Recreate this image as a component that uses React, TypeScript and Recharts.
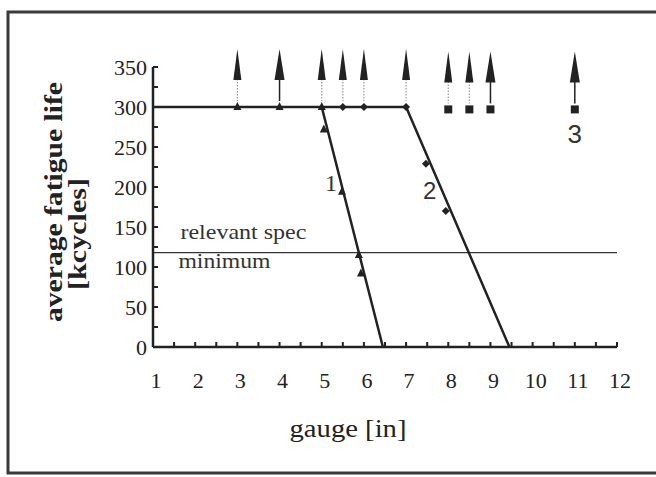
import React from 'react';
import { ComposedChart, Line, Scatter, XAxis, YAxis, ReferenceLine, ReferenceDot } from 'recharts';

// axis ticks
const xTicks = [1, 1.5, 2, 2.5, 3, 3.5, 4, 4.5, 5, 5.5, 6, 6.5, 7, 7.5, 8, 8.5, 9, 9.5, 10, 10.5, 11, 11.5, 12];
const yTicks = [0, 25, 50, 75, 100, 125, 150, 175, 200, 225, 250, 275, 300, 325, 350];

const specMinimum = 118;

// fitted lines
const line1 = [
  { x: 1, y: 300 },
  { x: 5, y: 300 },
  { x: 6.45, y: 0 },
];
const line2 = [
  { x: 5, y: 300 },
  { x: 7, y: 300 },
  { x: 9.45, y: 0 },
];

// measured points
const triangles = [
  { x: 3, y: 300 },
  { x: 4, y: 300 },
  { x: 5, y: 300 },
  { x: 5.05, y: 272 },
  { x: 5.48, y: 194 },
  { x: 5.88, y: 115 },
  { x: 5.93, y: 92 },
];
const diamonds = [
  { x: 5.5, y: 300 },
  { x: 6, y: 300 },
  { x: 7, y: 300 },
  { x: 7.47, y: 229 },
  { x: 7.94, y: 170 },
];
const squares = [
  { x: 8, y: 297 },
  { x: 8.5, y: 297 },
  { x: 9, y: 297 },
  { x: 11, y: 297 },
];

// run-outs (no failure)
const arrows = [
  { x: 3, y: 300, solid: false },
  { x: 4, y: 300, solid: true },
  { x: 5, y: 300, solid: false },
  { x: 5.5, y: 300, solid: false },
  { x: 6, y: 300, solid: false },
  { x: 7, y: 300, solid: false },
  { x: 8, y: 297, solid: false },
  { x: 8.5, y: 297, solid: false },
  { x: 9, y: 297, solid: true },
  { x: 11, y: 297, solid: true },
];

const INK = '#222';
const SERIF = '"Liberation Serif", "DejaVu Serif", serif';
const SANS = '"Liberation Sans", Arial, sans-serif';

const XTick = ({ x, y, payload }: any) => {
  const v = payload.value;
  return (
    <g>
      {v > 1 && <line x1={x} x2={x} y1={y} y2={y - 5} stroke={INK} strokeWidth={2} />}
      {Number.isInteger(v) && (
        <text x={x + 3} y={y + 41} textAnchor="middle" fontFamily={SERIF} fontSize={22} fill={INK}>
          {v}
        </text>
      )}
    </g>
  );
};

const YTick = ({ x, y, payload }: any) => {
  const v = payload.value;
  return (
    <g>
      {v > 0 && <line x1={x} x2={x + 5} y1={y} y2={y} stroke={INK} strokeWidth={2} />}
      {v % 50 === 0 && (
        <text x={x - 6} y={y} dy="0.35em" textAnchor="end" fontFamily={SERIF} fontSize={22} fill={INK}>
          {v}
        </text>
      )}
    </g>
  );
};

const Triangle = ({ cx, cy }: any) => (
  <polygon points={`${cx},${cy - 5} ${cx - 4},${cy + 3} ${cx + 4},${cy + 3}`} fill={INK} />
);
const Diamond = ({ cx, cy }: any) => (
  <polygon points={`${cx},${cy - 4} ${cx + 4},${cy} ${cx},${cy + 4} ${cx - 4},${cy}`} fill={INK} />
);
const Square = ({ cx, cy }: any) => <rect x={cx - 4} y={cy - 4} width={8} height={8} fill={INK} />;

const Arrow = ({ cx, cy, payload }: any) => {
  const w = payload.solid ? 5 : 4;
  return (
    <g>
      <line
        x1={cx}
        x2={cx}
        y1={cy - 28}
        y2={cy - 6}
        stroke={payload.solid ? INK : '#999'}
        strokeWidth={payload.solid ? 1.5 : 1.2}
        strokeDasharray={payload.solid ? undefined : '1.5 1.5'}
      />
      <polygon points={`${cx},${cy - 58} ${cx - w},${cy - 27} ${cx + w},${cy - 27}`} fill={INK} />
    </g>
  );
};

const label = (text: string, font: string, size: number) => ({ cx, cy }: any) => (
  <text x={cx} y={cy} dy="0.35em" textAnchor="middle" fontFamily={font} fontSize={size} fill="#333">
    {text}
  </text>
);

const SpecText = ({ cx, cy }: any) => (
  <g fontFamily={SERIF} fontSize={22} fill="#333">
    <text x={cx} y={cy - 14} textLength={126} lengthAdjust="spacingAndGlyphs">relevant spec</text>
    <text x={cx - 2} y={cy + 15} textLength={92} lengthAdjust="spacingAndGlyphs">minimum</text>
  </g>
);

export default function App() {
  return (
    <div style={{ position: 'fixed', left: 0, top: 0, width: 656, height: 477, background: '#fff', overflow: 'hidden' }}>
      <svg width={656} height={477} style={{ position: 'absolute', left: 0, top: 0 }}>
        <rect x={8} y={12} width={700} height={461} fill="none" stroke="#3a3a3a" strokeWidth={3} />
        <text
          transform="translate(62,202) rotate(-90)"
          textAnchor="middle"
          fontFamily={SERIF}
          fontWeight="bold"
          fontSize={26}
          fill={INK}
          textLength={240}
          lengthAdjust="spacingAndGlyphs"
        >
          average fatigue life
        </text>
        <text
          transform="translate(86,234) rotate(-90)"
          textAnchor="middle"
          fontFamily={SERIF}
          fontWeight="bold"
          fontSize={26}
          fill={INK}
          textLength={112}
          lengthAdjust="spacingAndGlyphs"
        >
          [kcycles]
        </text>
        <text x={348} y={437} textAnchor="middle" fontFamily={SERIF} fontSize={25} fill={INK} textLength={117} lengthAdjust="spacingAndGlyphs">
          gauge [in]
        </text>
      </svg>
      <div style={{ position: 'absolute', left: 0, top: 0 }}>
        <ComposedChart width={656} height={477} margin={{ top: 67, right: 39, bottom: 70, left: 93 }}>
          <XAxis
            type="number"
            dataKey="x"
            domain={[1, 12]}
            ticks={xTicks}
            interval={0}
            tickSize={0}
            tickMargin={0}
            tickLine={false}
            tick={<XTick />}
            height={60}
            axisLine={{ stroke: INK, strokeWidth: 2.5 }}
          />
          <YAxis
            type="number"
            dataKey="y"
            domain={[0, 350]}
            ticks={yTicks}
            interval={0}
            tickSize={0}
            tickMargin={0}
            tickLine={false}
            tick={<YTick />}
            width={60}
            axisLine={{ stroke: INK, strokeWidth: 2.5 }}
          />
          <ReferenceLine y={specMinimum} stroke="#333" strokeWidth={1.3} />
          <ReferenceDot x={1.65} y={specMinimum} r={0} shape={<SpecText />} />
          <Line data={line1} dataKey="y" type="linear" stroke={INK} strokeWidth={2.5} dot={false} activeDot={false} isAnimationActive={false} />
          <Line data={line2} dataKey="y" type="linear" stroke={INK} strokeWidth={2.5} dot={false} activeDot={false} isAnimationActive={false} />
          <Scatter data={arrows} dataKey="y" shape={<Arrow />} isAnimationActive={false} />
          <Scatter data={triangles} dataKey="y" shape={<Triangle />} isAnimationActive={false} />
          <Scatter data={diamonds} dataKey="y" shape={<Diamond />} isAnimationActive={false} />
          <Scatter data={squares} dataKey="y" shape={<Square />} isAnimationActive={false} />
          <ReferenceDot x={5.22} y={205} r={0} shape={label('1', SERIF, 24)} />
          <ReferenceDot x={7.56} y={195} r={0} shape={label('2', SANS, 24)} />
          <ReferenceDot x={11} y={267} r={0} shape={label('3', SANS, 26)} />
        </ComposedChart>
      </div>
    </div>
  );
}
